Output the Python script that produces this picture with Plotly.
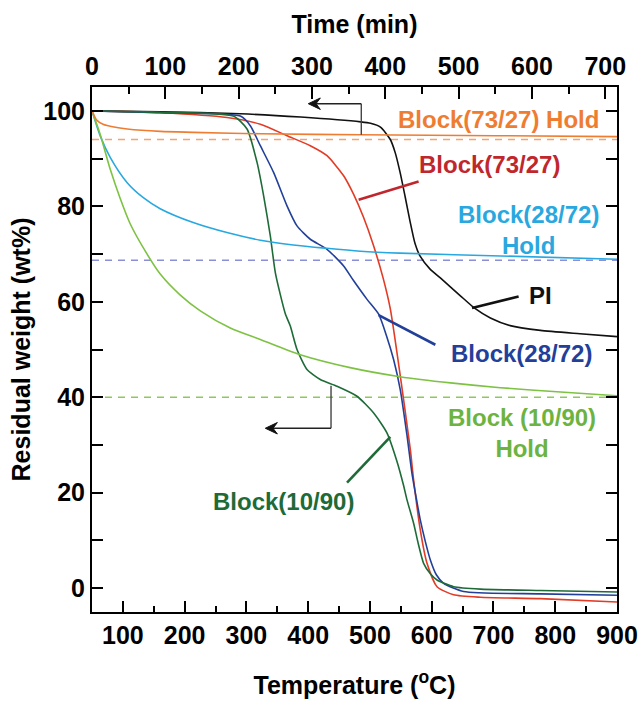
import plotly.graph_objects as go

# ---- Temperature-ramp TGA curves (x: temperature in degC, y: residual weight %) ----
pi_temp = [50, 160, 290, 388, 485, 501, 517, 533, 541, 549, 557, 565, 573, 581, 597, 614, 646, 670, 695, 727, 776, 840, 900]
pi_wt = [100, 99.8, 99.4, 98.7, 97.7, 97.4, 96.6, 94.0, 91.2, 87.0, 82.0, 76.8, 72.2, 69.6, 66.9, 65.0, 61.3, 58.6, 56.6, 55.0, 54.0, 53.3, 52.7]

b7327_temp = [50, 160.6, 268.6, 322.5, 365.7, 403.4, 430.5, 457.4, 473.6, 489.3, 505.5, 521.7, 533.0, 549.2, 565.4,
              570.7, 581.5, 592.4, 608.6, 635.5, 678.7, 775.9, 900]
b7327_wt = [100, 99.6, 98.6, 97.2, 94.8, 92.7, 90.6, 86.4, 82.5, 77.8, 71.9, 64.8, 58.5, 44.4, 29.0,
            22.7, 12.2, 5.2, 0.3, -1.4, -1.9, -2.2, -2.9]

b2872_temp = [50, 160.6, 290.1, 306.3, 322.5, 344.0, 365.7, 381.9, 403.4, 430.5, 457.4, 473.1, 495.3, 514.1, 526.5,
              538.3, 549.2, 560.0, 568.1, 576.2, 581.5, 589.6, 597.8, 607.5, 619.3, 651.7, 775.9, 900]
b2872_wt = [100, 99.6, 98.9, 96.9, 92.7, 87.1, 80.1, 75.9, 73.1, 71.0, 67.5, 64.5, 60.5, 57.4, 53.0,
            47.9, 41.5, 32.0, 24.0, 18.0, 14.3, 9.8, 5.9, 2.8, 1.0, -0.7, -1.2, -1.5]

b1090_temp = [50, 160.6, 278.8, 301.0, 317.2, 327.9, 338.7, 346.8, 354.9, 363.0, 371.1, 381.9, 398.1, 419.6, 446.7,
              479.1, 506.0, 527.7, 543.9, 554.5, 560.0, 570.7, 578.3, 586.9, 597.8, 608.6, 635.5, 678.7, 775.9, 900]
b1090_wt = [100, 99.7, 98.9, 96.2, 89.2, 82.2, 73.8, 66.1, 61.5, 57.5, 54.9, 50.0, 45.8, 43.7, 42.3,
            40.2, 36.7, 32.5, 26.5, 21.5, 18.5, 13.6, 9.3, 5.2, 3.0, 1.7, 0.3, -0.2, -0.5, -0.8]

# ---- Isothermal hold curves (x: time in min, y: residual weight %) ----
h7327_time = [0, 3, 6.8, 15, 30, 48, 93, 138, 230, 366, 550, 716]
h7327_wt = [100, 99.0, 98.0, 97.2, 96.6, 96.2, 95.7, 95.5, 95.2, 95.0, 94.8, 94.6]

h2872_time = [0, 11.3, 25, 47.7, 70, 93, 138, 184, 229.5, 274.5, 320, 366, 420, 557, 716]
h2872_wt = [100, 94.7, 90.2, 85.0, 81.8, 79.5, 76.6, 74.5, 72.9, 71.9, 71.2, 70.6, 70.2, 69.6, 68.9]

h1090_time = [0, 11.3, 25, 38.6, 52.2, 72.7, 93.1, 120.4, 147.7, 188.6, 229.5, 284, 352, 420, 489, 557, 639, 716]
h1090_wt = [100, 95.0, 87.7, 81.6, 76.3, 70.6, 65.8, 61.4, 58.1, 54.5, 52.1, 48.9, 46.2, 44.3, 43.0, 42.0, 41.1, 40.3]

# Final residual levels of the hold runs (dashed reference lines)
hold_levels = [94.0, 68.7, 40.0]
hold_level_colors = ["#f3a56e", "#8a8fd6", "#8dc95a"]

FONT = "Liberation Sans, Arial, Helvetica, sans-serif"

fig = go.Figure()

# dashed reference lines across the full temperature range
for lvl, col in zip(hold_levels, hold_level_colors):
    fig.add_trace(go.Scatter(x=[50, 900], y=[lvl, lvl], mode="lines",
                             line=dict(color=col, width=1.6, dash="7px,6px"),
                             xaxis="x", yaxis="y", showlegend=False, hoverinfo="skip"))

# hold curves on the time axis
for xs, ys, col in [(h2872_time, h2872_wt, "#29a8e0"),
                    (h1090_time, h1090_wt, "#7dc243"),
                    (h7327_time, h7327_wt, "#ee7d31")]:
    fig.add_trace(go.Scatter(x=xs, y=ys, mode="lines", line=dict(color=col, width=1.6, shape="spline", smoothing=0.8),
                             xaxis="x2", yaxis="y", showlegend=False))

# temperature-ramp curves
for xs, ys, col in [(pi_temp, pi_wt, "#111111"),
                    (b7327_temp, b7327_wt, "#e23b26"),
                    (b2872_temp, b2872_wt, "#22409a"),
                    (b1090_temp, b1090_wt, "#1e6b38")]:
    fig.add_trace(go.Scatter(x=xs, y=ys, mode="lines", line=dict(color=col, width=1.6, shape="spline", smoothing=0.6),
                             xaxis="x", yaxis="y", showlegend=False))

# series labels
labels = [
    ("Block(73/27) Hold", 707.5, 98.25, "#ee7d31"),
    ("Block(73/27)", 693.8, 88.7, "#c0272d"),
    ("Block(28/72)<br>Hold", 756.0, 75.0, "#29a8e0"),
    ("PI", 775.9, 61.4, "#111111"),
    ("Block(28/72)", 745.1, 49.1, "#22409a"),
    ("Block (10/90)<br>Hold", 745.9, 32.6, "#6db33f"),
    ("Block(10/90)", 359.7, 18.2, "#1e6b38"),
]
for txt, x, y, col in labels:
    fig.add_annotation(x=x, y=y, xref="x", yref="y", text=txt, showarrow=False,
                       xanchor="center", yanchor="middle", align="center",
                       font=dict(family=FONT, size=24, color=col, weight="bold"))

# leader lines from labels to curves
leaders = [
    (481.7, 81.4, 578.8, 85.2, "#c0272d"),
    (665.3, 58.7, 740.7, 61.1, "#111111"),
    (514.1, 57.2, 605.9, 51.0, "#22409a"),
    (533.0, 31.7, 462.9, 22.1, "#1e6b38"),
]
for x0, y0, x1, y1, col in leaders:
    fig.add_shape(type="line", xref="x", yref="y", x0=x0, y0=y0, x1=x1, y1=y1,
                  line=dict(color=col, width=2.6))

# axis-indicator arrows (pointing to the temperature/left axis):
# vertical stem, horizontal shaft and a stealth-style head
HEAD_LEN, HEAD_NOTCH, HEAD_HALF = 19.5, 12.5, 1.2
for xv, ytop, ybot, yshaft, xtip in [(486.0, 101.5, 95.0, 101.5, 400.2),
                                     (437.0, 42.4, 33.5, 33.5, 330.6)]:
    fig.add_shape(type="line", xref="x", yref="y", x0=xv, y0=ytop, x1=xv, y1=ybot,
                  line=dict(color="#444444", width=1.4))
    fig.add_shape(type="line", xref="x", yref="y", x0=xv, y0=yshaft, x1=xtip + HEAD_NOTCH, y1=yshaft,
                  line=dict(color="#222222", width=1.4))
    head = (f"M {xtip},{yshaft} L {xtip + HEAD_LEN},{yshaft + HEAD_HALF} "
            f"L {xtip + HEAD_NOTCH},{yshaft} L {xtip + HEAD_LEN},{yshaft - HEAD_HALF} Z")
    fig.add_shape(type="path", xref="x", yref="y", path=head,
                  fillcolor="#111111", line=dict(color="#111111", width=1))

tickfont = dict(family=FONT, size=25, color="black", weight="bold")
titlefont = dict(family=FONT, size=25, color="black", weight="bold")

fig.update_layout(
    width=639, height=701,
    margin=dict(l=92, r=22, t=87, b=89, autoexpand=False),
    paper_bgcolor="white", plot_bgcolor="white",
    showlegend=False,
    xaxis=dict(range=[50, 900], tick0=0, dtick=100, ticks="inside", ticklen=11, tickwidth=2,
               tickcolor="black", showline=True, linewidth=2, linecolor="black", automargin=False,
               showgrid=False, zeroline=False, tickfont=tickfont,
               minor=dict(dtick=50, ticks="inside", ticklen=6, tickwidth=2, tickcolor="black"),
               title=dict(text="Temperature (<sup>o</sup>C)", font=titlefont, standoff=28)),
    xaxis2=dict(range=[0, 716], overlaying="x", side="top", tick0=0, dtick=100, ticks="inside",
                ticklen=12, tickwidth=2, tickcolor="black", showline=True, linewidth=2, automargin=False,
                linecolor="black", showgrid=False, zeroline=False, tickfont=tickfont,
                minor=dict(dtick=50, ticks="inside", ticklen=7, tickwidth=2, tickcolor="black"),
                title=dict(text="Time (min)", font=titlefont, standoff=11)),
    yaxis=dict(range=[-5, 105], tick0=0, dtick=20, ticks="inside", ticklen=11, tickwidth=2,
               tickcolor="black", showline=True, linewidth=2, linecolor="black", mirror="allticks",
               showgrid=False, zeroline=False, tickfont=tickfont, automargin=False,
               minor=dict(dtick=10, ticks="inside", ticklen=6, tickwidth=2, tickcolor="black"),
               title=dict(text="Residual weight (wt%)", font=titlefont, standoff=6)),
)

fig.write_html("out.html")
